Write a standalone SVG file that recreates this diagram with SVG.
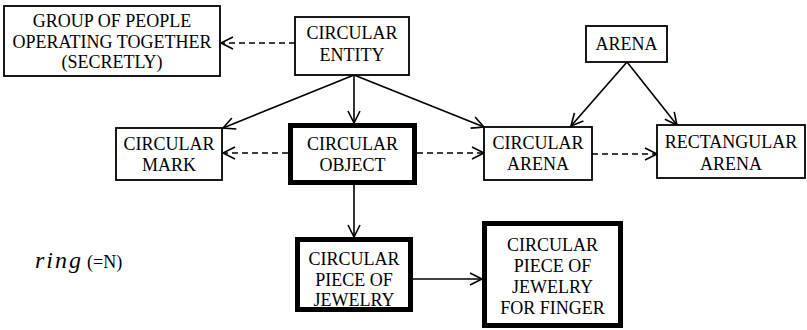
<svg xmlns="http://www.w3.org/2000/svg" width="807" height="330" viewBox="0 0 807 330">
<style>
text{font-family:'Liberation Serif','Times New Roman',serif;font-size:18px;fill:#000;text-anchor:middle}
.box{fill:#fff;stroke:#000;stroke-width:1.8}
.thick{fill:#fff;stroke:#000;stroke-width:5}
.ln{stroke:#000;stroke-width:1.6;fill:none;marker-end:url(#arr)}
.dash{stroke-dasharray:6 4}
.lft{text-anchor:start}
.it{font-style:italic;font-size:24px;letter-spacing:2px}
</style>
<defs>
<marker id="arr" markerUnits="userSpaceOnUse" markerWidth="16" markerHeight="16" refX="13" refY="7" orient="auto">
<path d="M1,1 L13,7 L1,13" fill="none" stroke="#000" stroke-width="1.6"/>
</marker>
</defs>
<rect width="807" height="330" fill="#fff"/>
<g id="connectors">
<path class="ln dash" d="M295,43 L221,43"/>
<path class="ln" d="M354,75 L223,128"/>
<path class="ln" d="M354,75 L354,123"/>
<path class="ln" d="M354,75 L484,127"/>
<path class="ln" d="M627,62 L571,126"/>
<path class="ln" d="M627,62 L677,125"/>
<path class="ln dash" d="M288,153 L223,153"/>
<path class="ln dash" d="M417,153 L484,153"/>
<path class="ln dash" d="M592,154 L657,154"/>
<path class="ln" d="M354,185 L354,237"/>
<path class="ln" d="M413,279 L482,279"/>
</g>
<g id="group">
<rect class="box" x="4" y="6" width="216" height="70"/>
<text x="112" y="27">GROUP OF PEOPLE</text>
<text x="112" y="48">OPERATING TOGETHER</text>
<text x="112" y="68">(SECRETLY)</text>
</g>
<g id="entity">
<rect class="box" x="295" y="17" width="114" height="58"/>
<text x="352" y="39">CIRCULAR</text>
<text x="352" y="61">ENTITY</text>
</g>
<g id="arena">
<rect class="box" x="586" y="26" width="81" height="36"/>
<text x="626.5" y="50">ARENA</text>
</g>
<g id="mark">
<rect class="box" x="116" y="128" width="106" height="52"/>
<text x="169" y="150">CIRCULAR</text>
<text x="169" y="171">MARK</text>
</g>
<g id="object">
<rect class="thick" x="290.5" y="125.5" width="124" height="57"/>
<text x="352.5" y="150">CIRCULAR</text>
<text x="352.5" y="171">OBJECT</text>
</g>
<g id="circular-arena">
<rect class="box" x="484" y="127" width="108" height="53"/>
<text x="538" y="149">CIRCULAR</text>
<text x="538" y="170">ARENA</text>
</g>
<g id="rect-arena">
<rect class="box" x="657" y="125" width="148" height="53"/>
<text x="731" y="148">RECTANGULAR</text>
<text x="731" y="170">ARENA</text>
</g>
<g id="jewelry">
<rect class="thick" x="297.5" y="239.5" width="113" height="70"/>
<text x="354" y="265">CIRCULAR</text>
<text x="354" y="286">PIECE OF</text>
<text x="354" y="306">JEWELRY</text>
</g>
<g id="finger">
<rect class="thick" x="484.5" y="223.5" width="136" height="102"/>
<text x="552.5" y="251">CIRCULAR</text>
<text x="552.5" y="272">PIECE OF</text>
<text x="552.5" y="293">JEWELRY</text>
<text x="552.5" y="314">FOR FINGER</text>
</g>
<g id="label">
<text class="lft it" x="35" y="268">ring</text>
<text class="lft" x="87" y="268">(=N)</text>
</g>
</svg>
